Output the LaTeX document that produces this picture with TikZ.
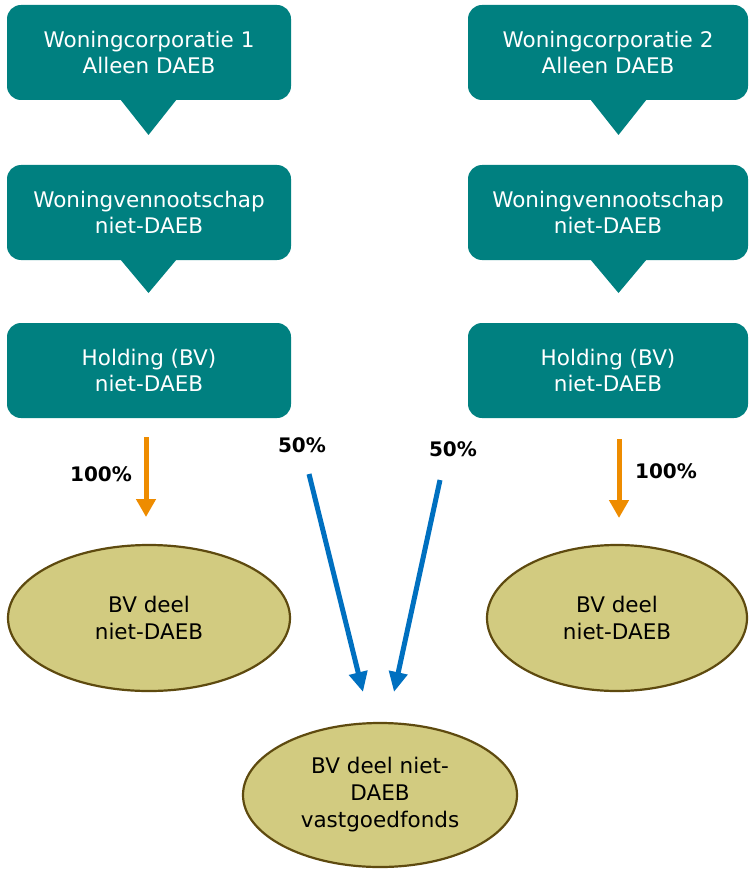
\documentclass[tikz,border=0pt]{standalone}
\usepackage{fontspec}
\setmainfont{DejaVu Sans}
\usetikzlibrary{arrows.meta,shapes.geometric}
\definecolor{teal1}{HTML}{008080}
\definecolor{olive1}{HTML}{D2CB80}
\definecolor{brown1}{HTML}{5E4A0F}
\definecolor{orange1}{HTML}{EE8C00}
\definecolor{blue1}{HTML}{0070C0}
\begin{document}
\begin{tikzpicture}[x=1pt,y=-1pt,
  tealbox/.style={fill=teal1, rounded corners=14pt, minimum height=95pt,
    text=white, align=center, font=\fontsize{21.5}{26}\selectfont, inner sep=0pt},
  oval/.style={ellipse, draw=brown1, line width=2.2pt, fill=olive1, align=center,
    font=\fontsize{21.5}{27}\selectfont, inner sep=0pt},
  orangearrow/.style={draw=orange1, line width=5pt, -{Triangle[width=19pt,length=18pt]}},
  bluearrow/.style={draw=blue1, line width=5pt, -{Triangle[width=18pt,length=20pt]}},
  lbl/.style={font=\bfseries\fontsize{20}{22}\selectfont, inner sep=0pt}]
\useasboundingbox (0,0) rectangle (749,869);

% left column
\node[tealbox, minimum width=284pt] (a1) at (149,52.5) {Woningcorporatie 1\\Alleen DAEB};
\fill[teal1] (120,99) -- (177,99) -- (148.5,135) -- cycle;
\node[tealbox, minimum width=284pt] (a2) at (149,212.5) {Woningvennootschap\\niet-DAEB};
\fill[teal1] (120,259) -- (177,259) -- (148.5,293) -- cycle;
\node[tealbox, minimum width=284pt] (a3) at (149,370.5) {Holding (BV)\\niet-DAEB};

% right column
\node[tealbox, minimum width=280pt] (b1) at (608,52.5) {Woningcorporatie 2\\Alleen DAEB};
\fill[teal1] (590,99) -- (647,99) -- (618.5,135) -- cycle;
\node[tealbox, minimum width=280pt] (b2) at (608,212.5) {Woningvennootschap\\niet-DAEB};
\fill[teal1] (590,259) -- (647,259) -- (618.5,293) -- cycle;
\node[tealbox, minimum width=280pt] (b3) at (608,370.5) {Holding (BV)\\niet-DAEB};

% ellipses
\node[oval, minimum width=282pt, minimum height=146pt] (e1) at (149,618) {BV deel\\niet-DAEB};
\node[oval, minimum width=260pt, minimum height=146pt] (e2) at (617,618) {BV deel\\niet-DAEB};
\node[oval, minimum width=274pt, minimum height=144pt] (e3) at (380,795) {BV deel niet-\\DAEB\\vastgoedfonds};

% arrows
\coordinate (o1s) at (146,437);
\coordinate (o1e) at (146,517);
\coordinate (o2s) at (619,439);
\coordinate (o2e) at (619,518);
\coordinate (u1s) at (309,474);
\coordinate (u1e) at (363,692);
\coordinate (u2s) at (440,480);
\coordinate (u2e) at (394,692);
\draw[orangearrow] (o1s) -- (o1e);
\draw[orangearrow] (o2s) -- (o2e);
\draw[bluearrow] (u1s) -- (u1e);
\draw[bluearrow] (u2s) -- (u2e);

% labels
\node[lbl] (l1) at (101,474) {100\%};
\node[lbl] (l2) at (666,471) {100\%};
\node[lbl] (l3) at (302,445) {50\%};
\node[lbl] (l4) at (453,449) {50\%};
\end{tikzpicture}
\end{document}
